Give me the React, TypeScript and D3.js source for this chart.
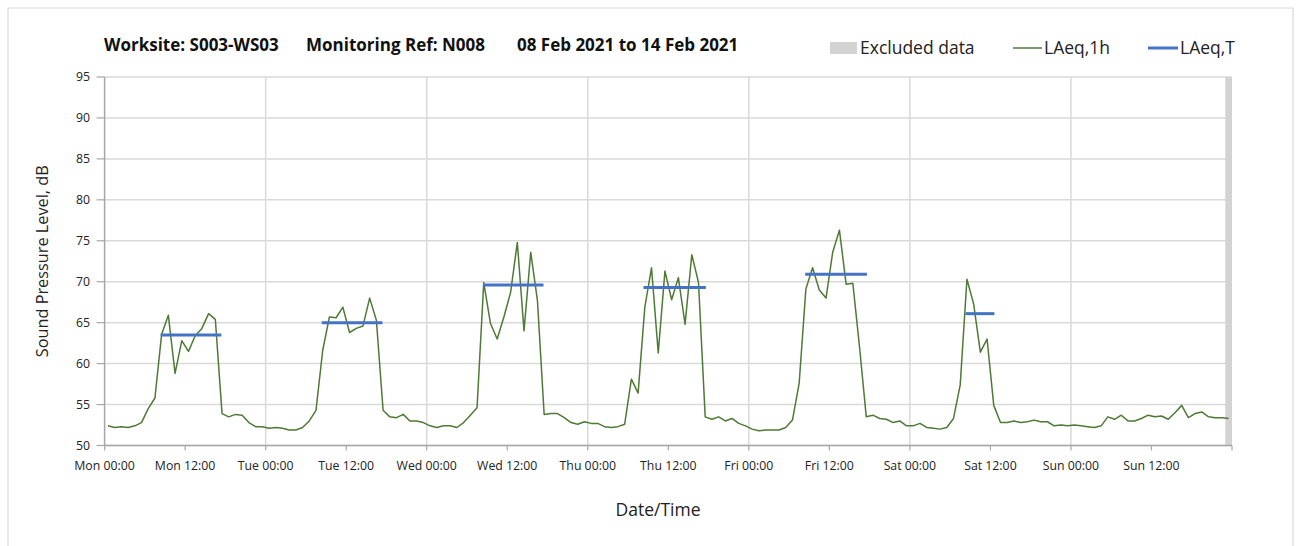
import React from "react";
import * as d3 from "d3";

// Hourly LAeq,1h values, Mon 00:00 .. Sun 23:00 (plotted at mid-hour)
const laeq1h: number[] = [
  52.4, 52.2, 52.3, 52.2, 52.4, 52.8, 54.5, 55.8,
  63.6, 65.9, 58.8, 62.8, 61.5, 63.4, 64.3, 66.1, 65.4,
  53.9, 53.5, 53.8, 53.7, 52.8, 52.3, 52.3,
  52.1, 52.2, 52.1, 51.9, 51.9, 52.2, 53.0, 54.3,
  61.6, 65.7, 65.6, 66.9, 63.8, 64.3, 64.6, 68.0, 65.3,
  54.3, 53.5, 53.4, 53.8, 53.0, 53.0, 52.8,
  52.4, 52.2, 52.4, 52.4, 52.2, 52.8, 53.7, 54.6,
  69.9, 64.9, 63.0, 65.7, 68.7, 74.8, 64.0, 73.6, 67.7,
  53.8, 53.9, 53.9, 53.4, 52.8, 52.6, 52.9,
  52.7, 52.7, 52.3, 52.2, 52.3, 52.6, 58.1, 56.4,
  66.9, 71.7, 61.3, 71.3, 67.8, 70.5, 64.8, 73.3, 69.9,
  53.5, 53.2, 53.5, 53.0, 53.3, 52.7, 52.4,
  52.0, 51.8, 51.9, 51.9, 51.9, 52.2, 53.1, 57.6,
  69.1, 71.7, 69.0, 68.0, 73.6, 76.3, 69.7, 69.8, 62.0,
  53.5, 53.7, 53.3, 53.2, 52.8, 53.0, 52.4,
  52.4, 52.7, 52.2, 52.1, 52.0, 52.2, 53.3, 57.4,
  70.3, 67.3, 61.4, 63.0, 54.9,
  52.8, 52.8, 53.0, 52.8, 52.9, 53.1, 52.9, 52.9, 52.4, 52.5, 52.4,
  52.5, 52.4, 52.3, 52.2, 52.4, 53.5, 53.2, 53.7, 53.0, 53.0, 53.3, 53.7,
  53.5, 53.6, 53.2, 54.0, 54.9, 53.4, 53.9, 54.1, 53.5, 53.4, 53.4, 53.3,
];

// LAeq,T periods (hours from Mon 00:00)
const periodStart: number[] = [8.35, 32.35, 56.4, 80.3, 104.4, 128.3];
const periodEnd: number[] = [17.4, 41.4, 65.4, 89.6, 113.6, 132.6];
const periodValue: number[] = [63.5, 65.0, 69.6, 69.3, 70.9, 66.1];

// Excluded data (hours)
const excludedStart: number[] = [167.0];
const excludedEnd: number[] = [168.0];

const xTickHours: number[] = [0, 12, 24, 36, 48, 60, 72, 84, 96, 108, 120, 132, 144, 156];
const xTickLabels: string[] = [
  "Mon 00:00", "Mon 12:00", "Tue 00:00", "Tue 12:00", "Wed 00:00", "Wed 12:00",
  "Thu 00:00", "Thu 12:00", "Fri 00:00", "Fri 12:00", "Sat 00:00", "Sat 12:00",
  "Sun 00:00", "Sun 12:00",
];
const yTicks: number[] = [50, 55, 60, 65, 70, 75, 80, 85, 90, 95];

const FONT = "'Open Sans', 'DejaVu Sans', sans-serif";

export default function App() {
  const W = 1301, H = 546;
  const left = 104.6, right = 1232, top = 77, bottom = 445.5;
  const x = d3.scaleLinear().domain([0, 168]).range([left, right]);
  const y = d3.scaleLinear().domain([50, 95]).range([bottom, top]);

  const line = d3
    .line<number>()
    .x((_, i) => x(i + 0.5))
    .y((d) => y(d));

  const gridColor = "#d9d9d9";
  const axisColor = "#a6a6a6";

  return (
    <svg width={W} height={H} style={{ position: "absolute", left: 0, top: 0, background: "#fff" }}>
      {/* frame */}
      <path d={`M8,${H} L8,8 L1293,8 L1293,${H}`} fill="none" stroke="#d9d9d9" strokeWidth={1.2} />

      {/* title */}
      <g fontFamily={FONT} fontWeight={700} fontSize={17} fill="#111">
        <text x={104} y={51}>Worksite: S003-WS03</text>
        <text x={306} y={51}>Monitoring Ref: N008</text>
        <text x={517} y={51}>08 Feb 2021 to 14 Feb 2021</text>
      </g>

      {/* legend */}
      <g fontFamily={FONT} fontSize={17.5} fill="#222">
        <rect x={830} y={42} width={27} height={12} fill="#d3d3d3" />
        <text x={860} y={54}>Excluded data</text>
        <line x1={1013} x2={1042} y1={48} y2={48} stroke="#4e7a35" strokeWidth={1.5} />
        <text x={1044} y={54}>LAeq,1h</text>
        <line x1={1148} x2={1178} y1={48} y2={48} stroke="#4472c4" strokeWidth={3} />
        <text x={1180} y={54}>LAeq,T</text>
      </g>

      {/* horizontal gridlines */}
      {yTicks.map((t) => (
        <line key={"hg" + t} x1={left} x2={right} y1={y(t)} y2={y(t)} stroke={gridColor} strokeWidth={1.5} />
      ))}
      {/* vertical gridlines at midnight */}
      {xTickHours.filter((h) => h % 24 === 0 && h > 0).map((h) => (
        <line key={"vg" + h} x1={x(h)} x2={x(h)} y1={top} y2={bottom} stroke={gridColor} strokeWidth={1.5} />
      ))}

      {/* excluded data */}
      {excludedStart.map((s, i) => (
        <rect key={"ex" + i} x={x(s)} y={top} width={x(excludedEnd[i]) - x(s)} height={bottom - top} fill="#d3d3d3" />
      ))}

      {/* axes */}
      <line x1={left} x2={left} y1={top} y2={bottom} stroke={axisColor} strokeWidth={1.5} />
      <line x1={left} x2={right} y1={bottom} y2={bottom} stroke={axisColor} strokeWidth={1.5} />
      {yTicks.map((t) => (
        <line key={"yt" + t} x1={left - 8} x2={left} y1={y(t)} y2={y(t)} stroke={axisColor} strokeWidth={1.2} />
      ))}
      {[...xTickHours, 168].map((h) => (
        <line key={"xt" + h} x1={x(h)} x2={x(h)} y1={bottom} y2={bottom + 5} stroke={axisColor} strokeWidth={1.2} />
      ))}

      {/* tick labels */}
      <g fontFamily={FONT} fontSize={12.3} fill="#222">
        {yTicks.map((t) => (
          <text key={"yl" + t} x={90} y={y(t)} dy="0.35em" textAnchor="end">{t}</text>
        ))}
        {xTickHours.map((h, i) => (
          <text key={"xl" + h} x={x(h)} y={470} textAnchor="middle">{xTickLabels[i]}</text>
        ))}
      </g>

      {/* axis titles */}
      <text
        fontFamily={FONT}
        fontSize={16.3}
        fill="#222"
        textAnchor="middle"
        transform={`translate(42,${(top + bottom) / 2}) rotate(-90)`}
        dy="0.35em"
      >
        Sound Pressure Level, dB
      </text>
      <text fontFamily={FONT} fontSize={17.5} fill="#222" textAnchor="middle" x={658} y={516}>
        Date/Time
      </text>

      {/* series */}
      <path d={line(laeq1h) || ""} fill="none" stroke="#4e7a35" strokeWidth={1.5} strokeLinejoin="round" />
      {periodStart.map((s, i) => (
        <line
          key={"p" + i}
          x1={x(s)}
          x2={x(periodEnd[i])}
          y1={y(periodValue[i])}
          y2={y(periodValue[i])}
          stroke="#4472c4"
          strokeWidth={3}
        />
      ))}
    </svg>
  );
}
